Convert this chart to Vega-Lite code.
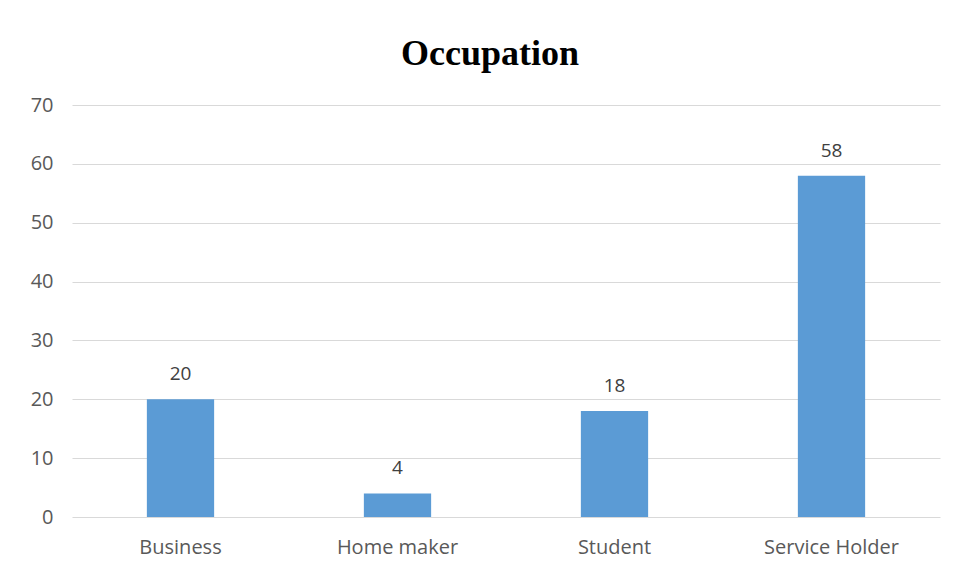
{
  "$schema": "https://vega.github.io/schema/vega-lite/v6.json",
  "width": 868,
  "height": 412,
  "autosize": {"type": "none"},
  "padding": {"left": 72, "top": 105, "right": 23, "bottom": 56},
  "background": "white",
  "title": {
    "text": "Occupation",
    "font": "Liberation Serif",
    "fontSize": 36,
    "fontWeight": "bold",
    "color": "#000000",
    "anchor": "middle",
    "offset": 22,
    "dx": -16
  },
  "data": {
    "values": [
      {"occupation": "Business", "count": 20},
      {"occupation": "Home maker", "count": 4},
      {"occupation": "Student", "count": 18},
      {"occupation": "Service Holder", "count": 58}
    ]
  },
  "config": {
    "view": {"stroke": null},
    "axis": {
      "labelFont": "Open Sans",
      "labelFontSize": 20,
      "labelColor": "#595959",
      "domain": false,
      "ticks": false,
      "title": null
    }
  },
  "encoding": {
    "x": {
      "field": "occupation",
      "type": "nominal",
      "sort": null,
      "scale": {"paddingInner": 0.69, "paddingOuter": 0.345},
      "axis": {"labelAngle": 0, "labelPadding": 20, "grid": false}
    },
    "y": {
      "field": "count",
      "type": "quantitative",
      "scale": {"domain": [0, 70]},
      "axis": {"values": [0, 10, 20, 30, 40, 50, 60, 70], "labelPadding": 19, "gridColor": "#d9d9d9", "gridWidth": 1}
    }
  },
  "layer": [
    {"mark": {"type": "bar", "color": "#5b9bd5"}},
    {
      "mark": {"type": "text", "dy": -15, "font": "Open Sans", "fontSize": 19, "color": "#404040", "baseline": "bottom"},
      "encoding": {"text": {"field": "count", "type": "quantitative"}}
    }
  ]
}
